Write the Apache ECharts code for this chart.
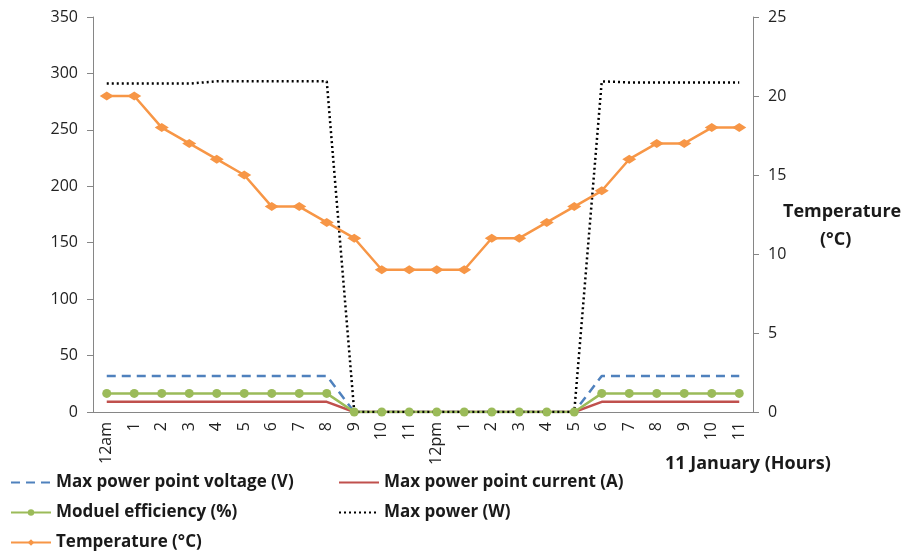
<!DOCTYPE html>
<html><head><meta charset="utf-8">
<script src="https://cdn.jsdelivr.net/npm/echarts@6/dist/echarts.min.js"></script>
<style>html,body{margin:0;padding:0;background:#fff}#c{width:904px;height:554px}</style>
</head><body><div id="c"></div>
<script>
var hours = ['12am','1','2','3','4','5','6','7','8','9','10','11','12pm','1','2','3','4','5','6','7','8','9','10','11'];
var voltage = [32,32,32,32,32,32,32,32,32,0,0,0,0,0,0,0,0,0,32,32,32,32,32,32];
var current = [9,9,9,9,9,9,9,9,9,0,0,0,0,0,0,0,0,0,9,9,9,9,9,9];
var efficiency = [16.5,16.5,16.5,16.5,16.5,16.5,16.5,16.5,16.5,0,0,0,0,0,0,0,0,0,16.5,16.5,16.5,16.5,16.5,16.5];
var maxPower = [291,291,291,291,293,293,293,293,293,0,0,0,0,0,0,0,0,0,293,292,292,292,292,292];
var temperature = [20,20,18,17,16,15,13,13,12,11,9,9,9,9,11,11,12,13,14,16,17,17,18,18];
var leftTicks = {min:0,max:350,interval:50};
var rightTicks = {min:0,max:25,interval:5};

var FONT = 'Open Sans';
var chart = echarts.init(document.getElementById('c'));
var axisCol = '#868686';
function legend(name, left, top, hideSymbol){
  var l = {data:[name], left:left, top:top, itemWidth:40, itemHeight:8, itemGap:4,
    textStyle:{fontFamily:FONT, fontSize:17, fontWeight:'bold', color:'#1a1a1a'}};
  if (hideSymbol) l.itemStyle = {opacity:0};
  return l;
}
chart.setOption({
  animation:false,
  grid:{left:93, right:151, top:17, bottom:142},
  legend:[
    legend('Max power point voltage (V)', 5, 469, true),
    legend('Max power point current (A)', 333, 469, true),
    legend('Moduel efficiency (%)', 5, 499, false),
    legend('Max power (W)', 333, 499, true),
    legend('Temperature (°C)', 5, 529, false)
  ],
  graphic:[
    {type:'text', left:665, top:455, style:{text:'11 January (Hours)', font:'bold 18px "Open Sans"', fill:'#1a1a1a'}},
    {type:'text', left:783, top:203, style:{text:'Temperature', font:'bold 18px "Open Sans"', fill:'#1a1a1a'}},
    {type:'text', left:820, top:231, style:{text:'(°C)', font:'bold 18px "Open Sans"', fill:'#1a1a1a'}}
  ],
  xAxis:{type:'category', data:hours, boundaryGap:true,
    axisLine:{lineStyle:{color:axisCol}}, axisTick:{alignWithLabel:false, length:6, lineStyle:{color:axisCol}},
    axisLabel:{rotate:90, interval:0, margin:10, fontFamily:FONT, fontSize:16, color:'#222'}},
  yAxis:[
    {type:'value', min:leftTicks.min, max:leftTicks.max, interval:leftTicks.interval,
      axisLine:{show:true, lineStyle:{color:axisCol}}, axisTick:{show:true, length:6, lineStyle:{color:axisCol}},
      splitLine:{show:false}, axisLabel:{margin:15, fontFamily:FONT, fontSize:16, color:'#222'}},
    {type:'value', min:rightTicks.min, max:rightTicks.max, interval:rightTicks.interval, position:'right',
      axisLine:{show:true, lineStyle:{color:axisCol}}, axisTick:{show:true, length:6, lineStyle:{color:axisCol}},
      splitLine:{show:false}, axisLabel:{margin:15, fontFamily:FONT, fontSize:16, color:'#222'}}
  ],
  series:[
    {name:'Max power point voltage (V)', type:'line', data:voltage, symbol:'none',
      lineStyle:{color:'#4F81BD', width:2.5, type:[9,6]}, itemStyle:{color:'#4F81BD'}},
    {name:'Max power point current (A)', type:'line', data:current, symbol:'none',
      lineStyle:{color:'#C0504D', width:2.5}, itemStyle:{color:'#C0504D'}},
    {name:'Moduel efficiency (%)', type:'line', data:efficiency, symbol:'circle', symbolSize:9,
      lineStyle:{color:'#9BBB59', width:2.5}, itemStyle:{color:'#9BBB59'}},
    {name:'Max power (W)', type:'line', data:maxPower, symbol:'none',
      lineStyle:{color:'#000', width:2.5, type:[2,3]}, itemStyle:{color:'#000'}},
    {name:'Temperature (°C)', type:'line', yAxisIndex:1, data:temperature, symbol:'diamond', symbolSize:[14,9],
      lineStyle:{color:'#F79646', width:2.5}, itemStyle:{color:'#F79646'}}
  ]
});
</script></body></html>
